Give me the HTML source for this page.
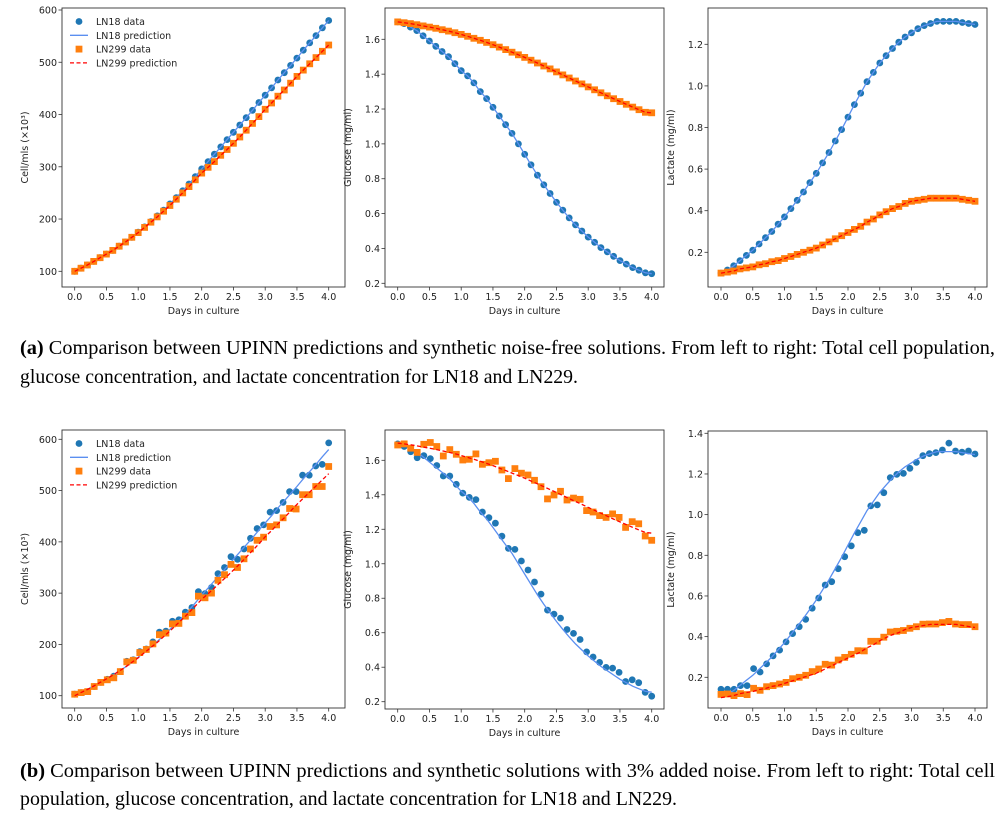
<!DOCTYPE html>
<html><head><meta charset="utf-8">
<style>
body{margin:0;background:#fff;}
svg{display:block;}
.tk{font-family:"DejaVu Sans","Liberation Sans",sans-serif;font-size:9.5px;fill:#222;}
.cap{font-family:"Liberation Serif",serif;font-size:19.8px;fill:#000;}
</style></head>
<body>
<svg id="fig" width="1003" height="819" viewBox="0 0 1003 819" xmlns="http://www.w3.org/2000/svg">
<rect width="1003" height="819" fill="#fff"/>
<text class="cap" x="20" y="354" textLength="975" lengthAdjust="spacingAndGlyphs"><tspan font-weight="bold">(a)</tspan> Comparison between UPINN predictions and synthetic noise-free solutions. From left to right: Total cell population,</text>
<text class="cap" x="20" y="383" textLength="558" lengthAdjust="spacingAndGlyphs">glucose concentration, and lactate concentration for LN18 and LN229.</text>
<text class="cap" x="20" y="777" textLength="975" lengthAdjust="spacingAndGlyphs"><tspan font-weight="bold">(b)</tspan> Comparison between UPINN predictions and synthetic solutions with 3% added noise. From left to right: Total cell</text>
<text class="cap" x="20" y="805" textLength="657" lengthAdjust="spacingAndGlyphs">population, glucose concentration, and lactate concentration for LN18 and LN229.</text>
</svg>
<script>
// ---- data ----
const cellLN18 = [100,106,112,119,126,133,140,148,156,165,175,185,195,206,217,229,241,254,267,281,296,310,324,338,352,366,380,394,408,423,437,451,466,480,494,508,523,537,551,566,580];
const cellLN299 = [100,106,112,119,126,133,140,148,156,165,174,184,194,204,215,226,238,250,262,275,288,299,310,322,333,345,357,370,383,396,410,422,435,447,460,473,485,497,509,521,533];
const glucLN18 = [1.70,1.69,1.67,1.65,1.62,1.59,1.56,1.53,1.50,1.46,1.42,1.39,1.35,1.30,1.26,1.21,1.16,1.11,1.06,1.00,0.94,0.88,0.82,0.765,0.715,0.665,0.62,0.575,0.535,0.50,0.465,0.435,0.405,0.38,0.355,0.33,0.31,0.29,0.275,0.26,0.255];
const glucLN299 = [1.700,1.695,1.690,1.684,1.677,1.670,1.663,1.655,1.647,1.638,1.628,1.617,1.606,1.594,1.582,1.569,1.555,1.541,1.526,1.511,1.496,1.480,1.464,1.447,1.430,1.413,1.396,1.378,1.361,1.344,1.327,1.310,1.293,1.276,1.259,1.243,1.227,1.211,1.196,1.181,1.178];
const lacLN18 = [0.10,0.115,0.135,0.16,0.185,0.21,0.24,0.27,0.30,0.335,0.37,0.41,0.45,0.49,0.535,0.58,0.63,0.68,0.735,0.79,0.85,0.91,0.965,1.02,1.065,1.11,1.145,1.18,1.21,1.235,1.255,1.275,1.29,1.30,1.31,1.31,1.31,1.31,1.305,1.30,1.295];
const lacLN299 = [0.10,0.105,0.11,0.12,0.125,0.13,0.14,0.145,0.155,0.16,0.17,0.18,0.19,0.20,0.21,0.22,0.235,0.25,0.265,0.28,0.295,0.31,0.325,0.345,0.36,0.38,0.395,0.41,0.42,0.435,0.445,0.45,0.455,0.46,0.46,0.46,0.46,0.46,0.455,0.45,0.445];
const noisyCellLN18 = [103,106,108,118,126,132,138,147,167,170,186,191,205,224,226,245,248,263,272,303,299,311,338,350,371,366,386,407,426,433,458,461,477,498,498,530,530,548,551,593];
const noisyCellLN299 = [103,106,108,118,126,131,135,147,166,169,184,190,201,219,222,240,241,255,262,294,291,300,325,336,356,350,367,386,403,409,430,433,447,465,464,492,492,508,508,547];
const noisyGlucLN18 = [1.695,1.68,1.65,1.615,1.627,1.61,1.57,1.509,1.509,1.461,1.41,1.385,1.372,1.30,1.267,1.235,1.16,1.089,1.083,1.016,0.964,0.894,0.824,0.731,0.708,0.685,0.619,0.596,0.561,0.489,0.459,0.428,0.399,0.395,0.37,0.317,0.327,0.31,0.254,0.232];
const noisyGlucLN299 = [1.689,1.695,1.67,1.646,1.693,1.703,1.68,1.625,1.662,1.635,1.602,1.606,1.637,1.577,1.586,1.594,1.544,1.494,1.552,1.525,1.515,1.484,1.447,1.376,1.399,1.42,1.37,1.381,1.374,1.308,1.30,1.279,1.269,1.289,1.269,1.211,1.244,1.232,1.161,1.136];
const noisyLacLN18 = [0.141,0.141,0.141,0.159,0.159,0.243,0.226,0.266,0.305,0.334,0.374,0.415,0.449,0.485,0.54,0.59,0.654,0.67,0.734,0.793,0.846,0.911,0.923,1.043,1.048,1.108,1.182,1.198,1.203,1.228,1.257,1.29,1.30,1.305,1.318,1.352,1.313,1.307,1.313,1.298];
const noisyLacLN299 = [0.116,0.118,0.11,0.12,0.115,0.146,0.136,0.154,0.159,0.167,0.175,0.193,0.20,0.21,0.228,0.241,0.264,0.26,0.285,0.298,0.313,0.331,0.33,0.377,0.377,0.397,0.423,0.426,0.43,0.441,0.449,0.461,0.462,0.462,0.469,0.475,0.462,0.459,0.459,0.449];
const xTicks = [0,0.5,1,1.5,2,2.5,3,3.5,4];
const cellTicks = [100,200,300,400,500,600];
const glucTicks = [0.2,0.4,0.6,0.8,1.0,1.2,1.4,1.6];
const lacTicksA = [0.2,0.4,0.6,0.8,1.0,1.2];
const lacTicksB = [0.2,0.4,0.6,0.8,1.0,1.2,1.4];
const legendLabels = ["LN18 data","LN18 prediction","LN299 data","LN299 prediction"];

const NS = "http://www.w3.org/2000/svg";
const fig = document.getElementById('fig');
function mk(tag, attrs, parent){const e=document.createElementNS(NS,tag);for(const k in attrs)e.setAttribute(k,attrs[k]);(parent||fig).appendChild(e);return e;}

function panel(p){
  const g = mk('g',{});
  
  
  const xs = d => p.x0 + d*(p.x4-p.x0)/4;
  const ys = v => p.yA - (v-p.vA)*(p.yA-p.yB)/(p.vB-p.vA);
  const cid = p.name+'-clip';
  const cp = mk('clipPath',{id:cid},g); mk('rect',{x:p.L,y:p.T,width:p.R-p.L,height:p.B-p.T},cp);
  const plot = mk('g',{'clip-path':'url(#'+cid+')'},g);
  function pts(arr){const n=arr.length;return arr.map((v,i)=>[xs(4*i/(n-1)),ys(v)]);}
  function circles(arr,nm){
    const gg=mk('g',{},plot);
    
    
    pts(arr).forEach(([x,y])=>mk('circle',{cx:x.toFixed(1),cy:y.toFixed(1),r:3.4,fill:'#1f77b4'},gg));
  }
  function squares(arr,nm){
    const gg=mk('g',{},plot);
    
    
    pts(arr).forEach(([x,y])=>mk('rect',{x:(x-3.4).toFixed(1),y:(y-3.4).toFixed(1),width:6.8,height:6.8,fill:'#ff7f0e'},gg));
  }
  function line(arr,nm,col,dash){
    const l=mk('polyline',{points:pts(arr).map(q=>q[0].toFixed(1)+','+q[1].toFixed(1)).join(' '),fill:'none',stroke:col,'stroke-width':1.3},plot);
    if(dash)l.setAttribute('stroke-dasharray','4,2.5');
    
    
  }
  circles(p.d18,'ln18-data-points');
  line(p.p18,'ln18-prediction-line','#5b8ff0',false);
  squares(p.d299,'ln299-data-points');
  line(p.p299,'ln299-prediction-line','#ff0000',true);
  const fr=mk('rect',{x:p.L,y:p.T,width:p.R-p.L,height:p.B-p.T,fill:'none',stroke:'#333','stroke-width':0.9},g);
  
  
  xTicks.forEach(t=>{
    const x=xs(t);
    mk('line',{x1:x,x2:x,y1:p.B,y2:p.B+3.5,stroke:'#333','stroke-width':0.8},g);
    const tx=mk('text',{x:x,y:p.B+13,'text-anchor':'middle',class:'tk'},g);
    tx.textContent=t.toFixed(1);
    
    
  });
  p.yt.forEach(t=>{
    const y=ys(t);
    mk('line',{x1:p.L-3.5,x2:p.L,y1:y,y2:y,stroke:'#333','stroke-width':0.8},g);
    const tx=mk('text',{x:p.L-5,y:y+3.5,'text-anchor':'end',class:'tk'},g);
    tx.textContent=p.fmt(t);
    
    
  });
  const xl=mk('text',{x:(p.L+p.R)/2,y:p.B+27,'text-anchor':'middle',class:'tk'},g);
  xl.textContent='Days in culture';
  
  
  const yx=p.L-34, yy=(p.T+p.B)/2;
  const yl=mk('text',{x:yx,y:yy,'text-anchor':'middle',class:'tk',transform:'rotate(-90 '+yx+' '+yy+')'},g);
  yl.textContent=p.ylab;
  
  
  if(p.legend){
    const lg=mk('g',{},g);
    
    
    const r0=p.T+13.5, dy=13.8, mx=79;
    legendLabels.forEach((lab,i)=>{
      const y=r0+i*dy;
      if(i===0)mk('circle',{cx:mx,cy:y,r:3.4,fill:'#1f77b4'},lg);
      if(i===1)mk('line',{x1:mx-9,x2:mx+9,y1:y,y2:y,stroke:'#5b8ff0','stroke-width':1.3},lg);
      if(i===2)mk('rect',{x:mx-3.4,y:y-3.4,width:6.8,height:6.8,fill:'#ff7f0e'},lg);
      if(i===3)mk('line',{x1:mx-9,x2:mx+9,y1:y,y2:y,stroke:'#ff0000','stroke-width':1.3,'stroke-dasharray':'4,2.5'},lg);
      const t=mk('text',{x:96,y:y+3.5,class:'tk'},lg);
      t.textContent=lab;
      
      
    });
  }
}
const f0=v=>String(v), f1=v=>v.toFixed(1);
panel({name:'cell-chart-a',L:62,R:345,T:8,B:287,x0:74.7,x4:328.7,vA:100,yA:271.3,vB:600,yB:10,yt:cellTicks,fmt:f0,ylab:'Cell/mls (×10³)',d18:cellLN18,p18:cellLN18,d299:cellLN299,p299:cellLN299,legend:true});
panel({name:'glucose-chart-a',L:385,R:664,T:8,B:287,x0:397.7,x4:651.7,vA:0.2,yA:283.3,vB:1.6,yB:39.3,yt:glucTicks,fmt:f1,ylab:'Glucose (mg/ml)',d18:glucLN18,p18:glucLN18,d299:glucLN299,p299:glucLN299});
panel({name:'lactate-chart-a',L:708,R:987,T:8,B:287,x0:721,x4:975,vA:0.2,yA:252.3,vB:1.2,yB:44.3,yt:lacTicksA,fmt:f1,ylab:'Lactate (mg/ml)',d18:lacLN18,p18:lacLN18,d299:lacLN299,p299:lacLN299});
panel({name:'cell-chart-b',L:62,R:345,T:430,B:708,x0:74.7,x4:328.7,vA:100,yA:695.7,vB:600,yB:439.3,yt:cellTicks,fmt:f0,ylab:'Cell/mls (×10³)',d18:noisyCellLN18,p18:cellLN18,d299:noisyCellLN299,p299:cellLN299,legend:true});
panel({name:'glucose-chart-b',L:385,R:664,T:430,B:709,x0:397.7,x4:651.7,vA:0.2,yA:701.7,vB:1.6,yB:460.3,yt:glucTicks,fmt:f1,ylab:'Glucose (mg/ml)',d18:noisyGlucLN18,p18:glucLN18,d299:noisyGlucLN299,p299:glucLN299});
panel({name:'lactate-chart-b',L:708,R:987,T:431,B:708,x0:721,x4:975,vA:0.2,yA:677.3,vB:1.4,yB:433.3,yt:lacTicksB,fmt:f1,ylab:'Lactate (mg/ml)',d18:noisyLacLN18,p18:lacLN18,d299:noisyLacLN299,p299:lacLN299});
</script>
</body></html>
